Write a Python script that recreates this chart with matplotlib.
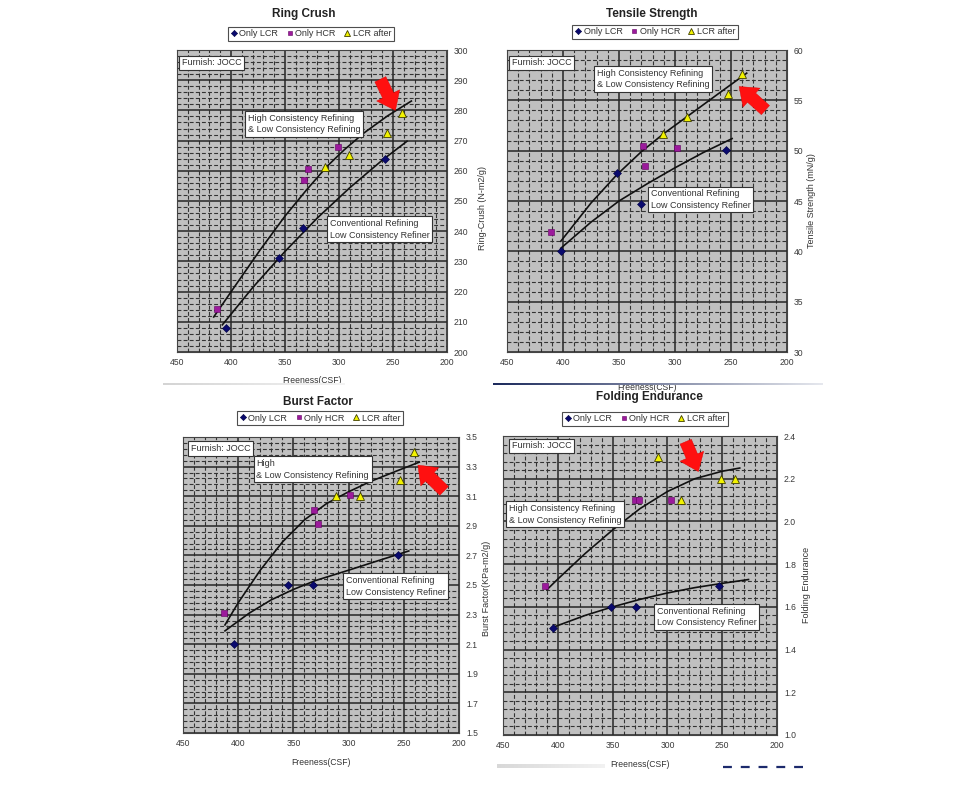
import numpy as np
import matplotlib
matplotlib.use("Agg")
import matplotlib.pyplot as plt
from matplotlib.ticker import MultipleLocator, FixedLocator, FormatStrFormatter
from matplotlib.lines import Line2D
from matplotlib.patches import FancyArrowPatch

plt.rcParams['font.family'] = ['Liberation Sans', 'DejaVu Sans']

# ---------------- data ----------------
legend_labels = ["Only LCR", "Only HCR", "LCR after"]
xlabel = "Freeness(CSF)"

# Ring Crush
rc_lcr_x = [405, 356, 333, 257]
rc_lcr_y = [208, 231, 241, 264]
rc_hcr_x = [413, 332, 329, 300.5]
rc_hcr_y = [214.4, 257, 260.6, 268]
rc_aft_x = [313, 291, 255.5, 242]
rc_aft_y = [261.4, 265.1, 272.5, 279.3]
rc_up_x = [416, 395, 373, 350, 330, 311, 295, 277, 255, 233]
rc_up_y = [211.6, 222.5, 233.8, 245.0, 253.7, 261.5, 267.0, 272.5, 278.2, 283.1]
rc_lo_x = [408, 380, 350, 320, 290, 260, 237]
rc_lo_y = [209.0, 221.3, 233.3, 244.4, 254.4, 263.5, 269.8]
rc_yticks = [200, 210, 220, 230, 240, 250, 260, 270, 280, 290, 300]

# Tensile Strength
ts_lcr_x = [402, 352, 330, 254.5]
ts_lcr_y = [40.0, 47.8, 44.7, 50.05]
ts_hcr_x = [410.5, 329, 327, 298.5]
ts_hcr_y = [41.9, 50.45, 48.5, 50.3]
ts_aft_x = [310.5, 289, 253, 240.5]
ts_aft_y = [51.65, 53.3, 55.6, 57.6]
ts_up_x = [402, 375, 352, 330, 310, 289, 262, 236]
ts_up_y = [41.0, 44.8, 47.6, 49.9, 51.7, 53.4, 55.6, 57.7]
ts_lo_x = [402, 375, 350, 325, 300, 275, 249]
ts_lo_y = [40.3, 42.9, 45.0, 46.7, 48.3, 49.8, 51.2]
ts_yticks = [30, 35, 40, 45, 50, 55, 60]

# Burst Factor
bf_lcr_x = [403.5, 354.5, 332, 255.5]
bf_lcr_y = [2.10, 2.50, 2.50, 2.70]
bf_hcr_x = [412.5, 331, 328, 299]
bf_hcr_y = [2.31, 3.01, 2.91, 3.11]
bf_aft_x = [311.5, 290, 253.5, 241]
bf_aft_y = [3.10, 3.10, 3.21, 3.40]
bf_up_x = [412, 400, 380, 360, 340, 320, 300, 280, 260, 236]
bf_up_y = [2.23, 2.38, 2.60, 2.79, 2.94, 3.05, 3.13, 3.20, 3.26, 3.33]
bf_lo_x = [412, 390, 370, 350, 330, 300, 275, 245.5]
bf_lo_y = [2.19, 2.31, 2.40, 2.47, 2.53, 2.60, 2.66, 2.73]
bf_yticks = [1.5, 1.7, 1.9, 2.1, 2.3, 2.5, 2.7, 2.9, 3.1, 3.3, 3.5]

# Folding Endurance
fe_lcr_x = [404, 351.5, 329, 253]
fe_lcr_y = [1.50, 1.60, 1.60, 1.70]
fe_hcr_x = [412, 330, 326, 297]
fe_hcr_y = [1.70, 2.10, 2.10, 2.10]
fe_aft_x = [309, 287.5, 251.5, 238]
fe_aft_y = [2.30, 2.10, 2.20, 2.20]
fe_up_x = [410, 400, 375, 350, 325, 300, 275, 250, 234]
fe_up_y = [1.68, 1.73, 1.85, 1.96, 2.06, 2.14, 2.20, 2.235, 2.25]
fe_lo_x = [404, 375, 350, 325, 300, 275, 250, 226]
fe_lo_y = [1.505, 1.56, 1.60, 1.635, 1.665, 1.69, 1.71, 1.728]
fe_yticks = [1.0, 1.2, 1.4, 1.6, 1.8, 2.0, 2.2, 2.4]

x_ticks = [450, 400, 350, 300, 250, 200]

# ---------------- figure ----------------
W, H = 968, 799
fig = plt.figure(figsize=(W / 100, H / 100), dpi=100)
fig.patch.set_facecolor('white')

def px_axes(x0, y0, x1, y1):
    return fig.add_axes([x0 / W, 1 - y1 / H, (x1 - x0) / W, (y1 - y0) / H])

C_LCR = '#0a0a6e'
C_HCR = '#9c1a9c'
C_AFT = '#f2f200'
BG = '#c0c0c0'

def style_axes(ax, yticks, nsub, fmt):
    ax.set_facecolor(BG)
    ax.set_xlim(x_ticks[0], x_ticks[-1])
    ax.set_ylim(yticks[0], yticks[-1])
    ax.xaxis.set_major_locator(FixedLocator(x_ticks))
    ax.xaxis.set_minor_locator(MultipleLocator(10))
    ax.yaxis.set_major_locator(FixedLocator(yticks))
    step = (yticks[1] - yticks[0]) / nsub
    minors = [yticks[0] + step * i for i in range(int(round((yticks[-1] - yticks[0]) / step)) + 1)]
    ax.yaxis.set_minor_locator(FixedLocator(minors))
    ax.yaxis.set_major_formatter(FormatStrFormatter(fmt))
    ax.grid(which='minor', color='#333333', lw=0.8, ls=(0, (3.5, 2)))
    ax.grid(which='major', color='#262626', lw=1.1, ls='-')
    ax.set_axisbelow(True)
    ax.yaxis.tick_right()
    ax.tick_params(axis='both', which='both', length=0, labelsize=6.2,
                   colors='#3a3a3a')
    ax.tick_params(axis='y', pad=5)
    ax.tick_params(axis='x', pad=4)
    for s in ax.spines.values():
        s.set_color('#444444')
        s.set_linewidth(0.8)

def draw_panel(ax, lcr, hcr, aft, up, lo):
    ax.plot(up[0], up[1], color='#111111', lw=1.2, zorder=3)
    ax.plot(lo[0], lo[1], color='#111111', lw=1.2, zorder=3)
    ax.plot(lcr[0], lcr[1], ls='none', marker='D', ms=3.8, mfc=C_LCR,
            mec='#000040', mew=0.4, zorder=4)
    ax.plot(hcr[0], hcr[1], ls='none', marker='s', ms=3.8, mfc=C_HCR,
            mec='#600060', mew=0.4, zorder=4)
    ax.plot(aft[0], aft[1], ls='none', marker='^', ms=5.5, mfc=C_AFT,
            mec='#404000', mew=0.6, zorder=4)

def legend(ax, cx, cy):
    handles = [
        Line2D([], [], ls='none', marker='D', ms=3.2, mfc=C_LCR, mec='#000040', mew=0.4),
        Line2D([], [], ls='none', marker='s', ms=3.2, mfc=C_HCR, mec='#600060', mew=0.4),
        Line2D([], [], ls='none', marker='^', ms=4.5, mfc=C_AFT, mec='#404000', mew=0.6),
    ]
    lg = ax.legend(handles, legend_labels, loc='center', bbox_to_anchor=(cx, cy),
                   ncol=3, fontsize=6.5, frameon=True, fancybox=False,
                   handlelength=0.7, handletextpad=0.3, columnspacing=0.9,
                   borderpad=0.3, borderaxespad=0)
    lg.get_frame().set_edgecolor('#222222')
    lg.get_frame().set_linewidth(0.8)
    for t in lg.get_texts():
        t.set_color('#333333')

def box(ax, x, y, s):
    ax.text(x, y, s, transform=ax.transAxes, ha='left', va='top', fontsize=6.5,
            color='#333333', linespacing=1.35, zorder=6,
            bbox=dict(boxstyle='square,pad=0.3', fc='white', ec='#333333', lw=0.8))

def arrow(ax, tail, tip):
    a = FancyArrowPatch(tail, tip, transform=ax.transAxes,
                        arrowstyle='simple,head_width=2.3,head_length=1.5,tail_width=1.1',
                        mutation_scale=8, color='#ff1010', ec='#e00000', lw=0.3,
                        shrinkA=0, shrinkB=0, zorder=7)
    ax.add_patch(a)

def labels(ax, title, tx, ty, ylab, yx, yy, xly):
    ax.text(tx, ty, title, transform=ax.transAxes, ha='center', va='center',
            fontsize=8.5, fontweight='bold', color='#222222')
    ax.text(yx, yy, ylab, transform=ax.transAxes, ha='center', va='center',
            rotation=90, fontsize=6.5, color='#333333')
    ax.text(0.5, xly, xlabel, transform=ax.transAxes, ha='center', va='center',
            fontsize=6.2, color='#333333')

# ---- Ring Crush ----
ax1 = px_axes(177, 50, 447, 352)
style_axes(ax1, rc_yticks, 5, '%d')
draw_panel(ax1, (rc_lcr_x, rc_lcr_y), (rc_hcr_x, rc_hcr_y), (rc_aft_x, rc_aft_y),
           (rc_up_x, rc_up_y), (rc_lo_x, rc_lo_y))
legend(ax1, 0.496, 1.053)
box(ax1, 0.018, 0.972, "Furnish: JOCC")
box(ax1, 0.262, 0.788, "High Consistency Refining\n& Low Consistency Refining")
box(ax1, 0.565, 0.440, "Conventional Refining\nLow Consistency Refiner")
arrow(ax1, (0.753, 0.903), (0.809, 0.800))
labels(ax1, "Ring Crush", 0.47, 1.119, "Ring-Crush (N-m2/g)", 1.13, 0.477, -0.093)

# ---- Tensile Strength ----
ax2 = px_axes(507, 50, 787, 352)
style_axes(ax2, ts_yticks, 5, '%d')
draw_panel(ax2, (ts_lcr_x, ts_lcr_y), (ts_hcr_x, ts_hcr_y), (ts_aft_x, ts_aft_y),
           (ts_up_x, ts_up_y), (ts_lo_x, ts_lo_y))
legend(ax2, 0.529, 1.060)
box(ax2, 0.018, 0.972, "Furnish: JOCC")
box(ax2, 0.320, 0.937, "High Consistency Refining\n& Low Consistency Refining")
box(ax2, 0.513, 0.539, "Conventional Refining\nLow Consistency Refiner")
arrow(ax2, (0.923, 0.801), (0.829, 0.879))
labels(ax2, "Tensile Strength", 0.518, 1.119, "Tensile Strength (mN/g)", 1.089, 0.503, -0.119)

# ---- Burst Factor ----
ax3 = px_axes(183, 437, 459, 733)
style_axes(ax3, bf_yticks, 5, '%.1f')
draw_panel(ax3, (bf_lcr_x, bf_lcr_y), (bf_hcr_x, bf_hcr_y), (bf_aft_x, bf_aft_y),
           (bf_up_x, bf_up_y), (bf_lo_x, bf_lo_y))
legend(ax3, 0.496, 1.064)
box(ax3, 0.029, 0.976, "Furnish: JOCC")
box(ax3, 0.266, 0.925, "High\n& Low Consistency Refining")
box(ax3, 0.589, 0.530, "Conventional Refining\nLow Consistency Refiner")
arrow(ax3, (0.946, 0.818), (0.851, 0.905))
labels(ax3, "Burst Factor", 0.489, 1.118, "Burst Factor(KPa-m2/g)", 1.101, 0.49, -0.101)

# ---- Folding Endurance ----
ax4 = px_axes(503, 436, 777, 735)
style_axes(ax4, fe_yticks, 5, '%.1f')
draw_panel(ax4, (fe_lcr_x, fe_lcr_y), (fe_hcr_x, fe_hcr_y), (fe_aft_x, fe_aft_y),
           (fe_up_x, fe_up_y), (fe_lo_x, fe_lo_y))
legend(ax4, 0.518, 1.057)
box(ax4, 0.033, 0.982, "Furnish: JOCC")
box(ax4, 0.022, 0.772, "High Consistency Refining\n& Low Consistency Refining")
box(ax4, 0.561, 0.428, "Conventional Refining\nLow Consistency Refiner")
arrow(ax4, (0.667, 0.981), (0.713, 0.881))
labels(ax4, "Folding Endurance", 0.533, 1.130, "Folding Endurance", 1.109, 0.502, -0.100)

# ---- decorative slide lines ----
def grad_bar(x0, x1, y, h, c0, c1):
    gax = px_axes(x0, y - h / 2, x1, y + h / 2)
    gax.set_axis_off()
    t = np.linspace(0, 1, 256)
    c0 = np.array(matplotlib.colors.to_rgb(c0))
    c1 = np.array(matplotlib.colors.to_rgb(c1))
    img = (c0[None, :] * (1 - t[:, None]) + c1[None, :] * t[:, None])[None, :, :]
    gax.imshow(img, aspect='auto', extent=(0, 1, 0, 1))

grad_bar(163, 345, 384, 3, '#d4d4d4', '#f4f4f4')
grad_bar(493, 822, 384, 3, '#1c2a5c', '#e6e8ee')
grad_bar(497, 605, 766, 4, '#d8d8d8', '#f2f2f2')
fig.add_artist(Line2D([723 / W, 810 / W], [1 - 767 / H, 1 - 767 / H],
                      color='#1c2a6c', lw=1.6, ls=(0, (4, 4))))

fig.savefig('out.png', dpi=100, facecolor='white')
